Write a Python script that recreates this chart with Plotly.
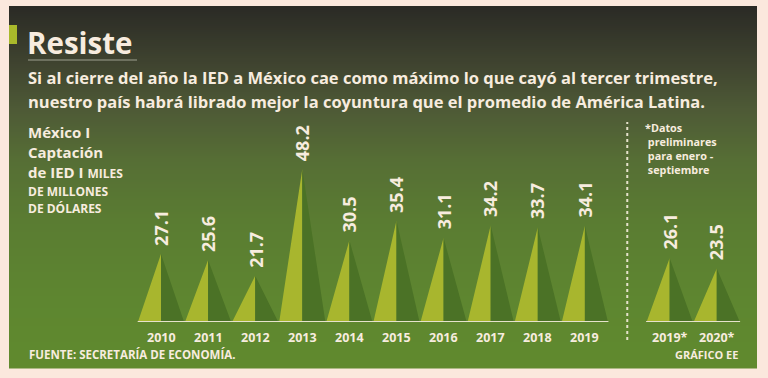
import plotly.graph_objects as go

# ---------------- data ----------------
years = ["2010", "2011", "2012", "2013", "2014", "2015", "2016", "2017", "2018", "2019"]
values = [27.1, 25.6, 21.7, 48.2, 30.5, 35.4, 31.1, 34.2, 33.7, 34.1]
prelim_years = ["2019*", "2020*"]
prelim_values = [26.1, 23.5]

# ---------------- style ----------------
W, H = 768, 378
FONT = "Open Sans"
CREAM = "#f7ecdf"
LIGHT = "#a8b62e"
DARK = "#4b7226"
BASE = 10.2
YTOP = 57.85
HALF = 0.49
GAP = 0.8

def px(x):
    return x / W

def py(y):
    return 1 - y / H

pos_main = list(range(len(years)))
pos_pre = [len(years) - 1 + 1 + GAP + i for i in range(len(prelim_years))]
all_pos = pos_main + pos_pre
all_vals = values + prelim_values
all_labels = years + prelim_years

fig = go.Figure()

# triangles: light left half, dark right half
lx, ly, dx, dy = [], [], [], []
for p, v in zip(all_pos, all_vals):
    lx += [p - HALF, p, p, None]
    ly += [BASE, v, BASE, None]
    dx += [p, p, p + HALF, None]
    dy += [BASE, v, BASE, None]
fig.add_trace(go.Scatter(x=lx, y=ly, fill="toself", mode="lines", line=dict(width=0),
                         fillcolor=LIGHT, hoverinfo="skip", showlegend=False))
fig.add_trace(go.Scatter(x=dx, y=dy, fill="toself", mode="lines", line=dict(width=0),
                         fillcolor=DARK, hoverinfo="skip", showlegend=False))

shapes = []
# gradient background card
stops = [(6, (42, 42, 37)), (60, (62, 66, 47)), (110, (78, 90, 54)), (160, (86, 110, 53)),
         (220, (90, 124, 50)), (300, (94, 134, 48)), (368, (96, 138, 46))]

def col(y):
    for (y0, c0), (y1, c1) in zip(stops[:-1], stops[1:]):
        if y0 <= y <= y1:
            t = (y - y0) / (y1 - y0)
            return "rgb(%d,%d,%d)" % tuple(round(a + (b - a) * t) for a, b in zip(c0, c1))
    return "rgb(%d,%d,%d)" % stops[-1][1]

step = 2
y = 6
while y < 368:
    y2 = min(y + step, 368)
    shapes.append(dict(type="rect", xref="paper", yref="paper", x0=px(9), x1=px(757),
                       y0=py(y2 + 0.5), y1=py(y), fillcolor=col(y + step / 2),
                       line=dict(width=0), layer="below"))
    y = y2

# green accent bar
shapes.append(dict(type="rect", xref="paper", yref="paper", x0=px(9), x1=px(17),
                   y0=py(44), y1=py(25), fillcolor="#a9b92b", line=dict(width=0), layer="below"))
# title underline
shapes.append(dict(type="line", xref="paper", yref="paper", x0=px(28), x1=px(137),
                   y0=py(60), y1=py(60), line=dict(color="#7f8270", width=1.5)))
# baselines
shapes.append(dict(type="line", xref="x", yref="y", x0=pos_main[0] - 0.5, x1=pos_main[-1] + 0.5,
                   y0=BASE, y1=BASE, line=dict(color="#e6e2cc", width=2)))
shapes.append(dict(type="line", xref="x", yref="y", x0=pos_pre[0] - 0.5, x1=pos_pre[-1] + 0.5,
                   y0=BASE, y1=BASE, line=dict(color="#e6e2cc", width=2)))
# dotted separator
sep = (pos_main[-1] + 0.5 + pos_pre[0] - 0.5) / 2
shapes.append(dict(type="line", xref="x", yref="paper", x0=sep, x1=sep,
                   y0=py(340), y1=py(122), line=dict(color="#e6e2cc", width=2, dash="dot")))

ann = []
# value labels and year labels
for p, v, lab in zip(all_pos, all_vals, all_labels):
    ann.append(dict(x=p, y=v, xref="x", yref="y", text="<b>%.1f</b>" % v, textangle=-90,
                    showarrow=False, xanchor="center", yanchor="bottom", yshift=6,
                    font=dict(family=FONT, size=18, color=CREAM)))
    ann.append(dict(x=p, y=BASE, xref="x", yref="y", text="<b>%s</b>" % lab,
                    showarrow=False, xanchor="center", yanchor="top", yshift=-5,
                    font=dict(family=FONT, size=12.5, color=CREAM)))

def txt(x, y, s, size, anchor="left", valign="middle"):
    ann.append(dict(x=px(x), y=py(y), xref="paper", yref="paper", text=s, showarrow=False,
                    xanchor=anchor, yanchor=valign, align=anchor,
                    font=dict(family=FONT, size=size, color=CREAM)))

txt(25, 42, "<b>Resiste</b>", 29.5)
txt(26, 78, "<b>Si al cierre del año la IED a México cae como máximo lo que cayó al tercer trimestre,</b>", 16.5)
txt(26, 101, "<b>nuestro país habrá librado mejor la coyuntura que el promedio de América Latina.</b>", 16.5)

txt(26, 131.5, "<b>México I</b>", 15)
txt(26, 152, "<b>Captación</b>", 15)
txt(26, 172.5, "<b>de IED I <span style='font-size:12px'>MILES</span></b>", 15)
txt(26, 191, "<b>DE MILLONES</b>", 12)
txt(26, 208, "<b>DE DÓLARES</b>", 12)

txt(643, 118, "<b>*Datos<br> preliminares<br> para enero -<br> septiembre</b>", 10.8, valign="top")

txt(27, 354, "<b>FUENTE: SECRETARÍA DE ECONOMÍA.</b>", 11.5)
txt(740, 354, "<b>GRÁFICO EE</b>", 11, anchor="right")

fig.update_layout(
    width=W, height=H,
    margin=dict(l=0, r=0, t=0, b=0),
    paper_bgcolor="#fbe8dd",
    plot_bgcolor="rgba(0,0,0,0)",
    shapes=shapes,
    annotations=ann,
    xaxis=dict(domain=[px(137.45), px(740.3)], range=[-0.5, 12.3], visible=False, fixedrange=True),
    yaxis=dict(domain=[py(322), py(130)], range=[BASE, YTOP], visible=False, fixedrange=True),
    showlegend=False,
)

fig.write_html("out.html", config={"displayModeBar": False},
               post_script="document.body.style.margin='0px';document.body.style.overflow='hidden';")
